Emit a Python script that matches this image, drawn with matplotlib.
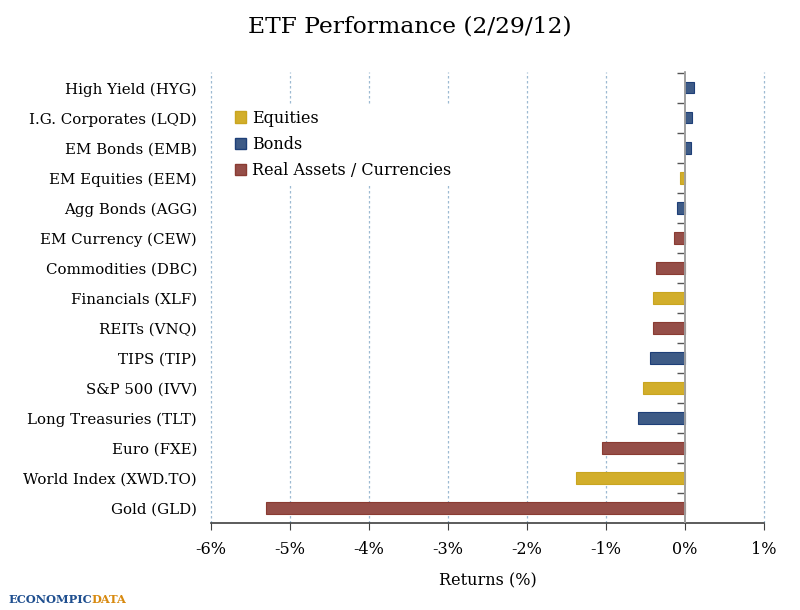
import matplotlib
matplotlib.use("Agg")
import matplotlib.pyplot as plt
from matplotlib.patches import Patch

categories = ["High Yield (HYG)", "I.G. Corporates (LQD)", "EM Bonds (EMB)",
              "EM Equities (EEM)", "Agg Bonds (AGG)", "EM Currency (CEW)",
              "Commodities (DBC)", "Financials (XLF)", "REITs (VNQ)",
              "TIPS (TIP)", "S&P 500 (IVV)", "Long Treasuries (TLT)",
              "Euro (FXE)", "World Index (XWD.TO)", "Gold (GLD)"]
returns = [0.12, 0.09, 0.08, -0.06, -0.10, -0.14, -0.37, -0.40, -0.41,
           -0.44, -0.53, -0.60, -1.05, -1.38, -5.30]
groups = ["Bonds", "Bonds", "Bonds", "Equities", "Bonds", "Real",
          "Real", "Equities", "Real", "Bonds", "Equities", "Bonds",
          "Real", "Equities", "Real"]
xticks = [-6, -5, -4, -3, -2, -1, 0, 1]
xticklabels = ["-6%", "-5%", "-4%", "-3%", "-2%", "-1%", "0%", "1%"]
legend_labels = ["Equities", "Bonds", "Real Assets / Currencies"]

face = {"Equities": "#D2AE2B", "Bonds": "#3E5B86", "Real": "#954E48"}
edge = {"Equities": "#C9A520", "Bonds": "#1E3F78", "Real": "#8A3B32"}

plt.rcParams['font.family'] = ['DejaVu Serif']

fig = plt.figure(figsize=(8, 6.1), dpi=100)
ax = fig.add_axes([0.26375, 0.1426, 0.69125, 0.7393])

n = len(categories)
ypos = [n - 1 - i for i in range(n)]
ax.barh(ypos, returns, height=0.37,
        color=[face[g] for g in groups],
        edgecolor=[edge[g] for g in groups], linewidth=0.8, zorder=3)

ax.set_xlim(-6, 1)
ax.set_ylim(-0.5, n - 0.47)
ax.set_xticks(xticks)
ax.set_xticklabels(xticklabels, fontsize=11.5)
ax.set_yticks(ypos)
ax.set_yticklabels(categories, fontsize=10.8)
ax.tick_params(axis='y', length=0, pad=10)
ax.tick_params(axis='x', length=5, color='#404040', pad=8)

for s in ['top', 'right', 'left']:
    ax.spines[s].set_visible(False)
ax.spines['bottom'].set_color('#404040')
ax.spines['bottom'].set_linewidth(1.2)

for xv in xticks:
    if xv != 0:
        ax.axvline(xv, color='#9DBAD2', linestyle=(0, (2, 2)), linewidth=0.9,
                   zorder=1, clip_on=False)
ax.axvline(0, color='#A0A0A0', linewidth=1.3, zorder=4)

sec = ax.secondary_yaxis(6 / 7)
sec.set_yticks([k + 0.5 for k in range(n)])
sec.set_yticklabels([])
sec.tick_params(length=6, color='#555555', width=1, direction='in')
for s in sec.spines.values():
    s.set_color('#A0A0A0')
    s.set_linewidth(1.3)

ax.set_xlabel("Returns (%)", fontsize=11.5, labelpad=10)
fig.suptitle("ETF Performance (2/29/12)", fontsize=16.8, x=0.512, y=0.975)

handles = [Patch(facecolor=face[g], edgecolor=edge[g]) for g in ["Equities", "Bonds", "Real"]]
leg = ax.legend(handles, legend_labels, loc='upper left', bbox_to_anchor=(0.02, 0.945),
                frameon=True, fontsize=11.5, handlelength=0.7, handleheight=0.7,
                handletextpad=0.4, labelspacing=0.58, borderpad=0.3)
leg.get_frame().set_edgecolor('white')
leg.get_frame().set_facecolor('white')
leg.get_frame().set_alpha(1)
leg.set_zorder(5)

t1 = fig.text(0.01, 0.012, "ECONOMPIC", color='#1F4F8F', fontsize=8.2, fontweight='bold',
              family='DejaVu Serif')
fig.canvas.draw()
bb = t1.get_window_extent(renderer=fig.canvas.get_renderer())
fig.text(bb.x1 / fig.bbox.width, 0.012, "DATA", color='#D88A10', fontsize=8.2,
         fontweight='bold', family='DejaVu Serif')

fig.savefig("out.png", dpi=100)
